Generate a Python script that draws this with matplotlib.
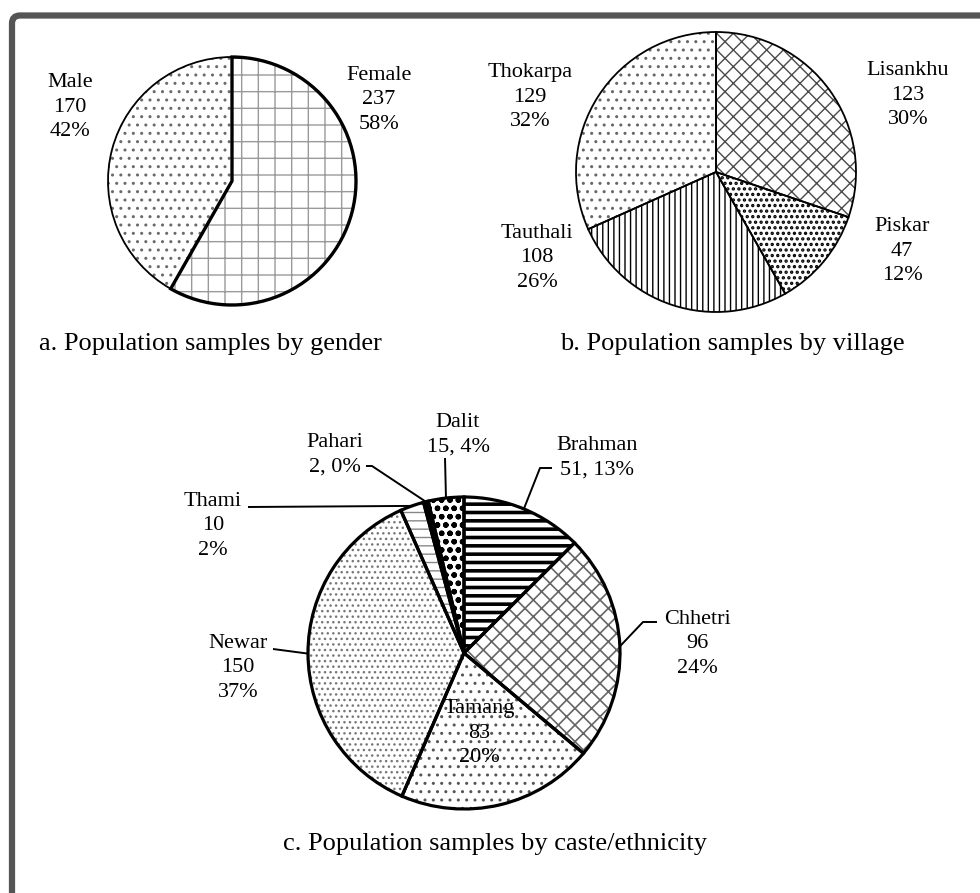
import numpy as np
import matplotlib.pyplot as plt
from matplotlib.patches import FancyBboxPatch

# a. gender
gender_labels = ['Female', 'Male']
gender_counts = [237, 170]
gender_pcts = [58, 42]

# b. village
village_labels = ['Lisankhu', 'Piskar', 'Tauthali', 'Thokarpa']
village_counts = [123, 47, 108, 129]
village_pcts = [30, 12, 26, 32]

# c. caste / ethnicity
caste_labels = ['Brahman', 'Chhetri', 'Tamang', 'Newar', 'Thami', 'Pahari', 'Dalit']
caste_counts = [51, 96, 83, 150, 10, 2, 15]
caste_pcts = [13, 24, 20, 37, 2, 0, 4]

W, H = 980, 893   # layout below is in image pixels, y measured downwards

plt.rcParams['font.family'] = ['Liberation Serif', 'DejaVu Serif']

fig = plt.figure(figsize=(W / 100, H / 100), dpi=100)
ax = fig.add_axes([0, 0, 1, 1])


def draw_pie(counts, center, radius, hatches, hcolors, faces, hatch_lw, edge_lw):
    cx, cy = center[0], H - center[1]
    wedges, _ = ax.pie(counts, center=(cx, cy), radius=radius, startangle=90,
                       counterclock=False, wedgeprops=dict(linewidth=0))
    for w, h, c, f, hl in zip(wedges, hatches, hcolors, faces, hatch_lw):
        w.set_facecolor(f)
        w.set_edgecolor(c)   # edge colour doubles as hatch colour
        w.set_linewidth(0)
        w.set_hatch(h)
        if hasattr(w, 'set_hatch_linewidth'):
            w.set_hatch_linewidth(hl)
    # black outlines drawn on top
    outl, _ = ax.pie(counts, center=(cx, cy), radius=radius, startangle=90,
                     counterclock=False, wedgeprops=dict(fill=False, edgecolor='black'))
    for o, lw in zip(outl, edge_lw):
        o.set_linewidth(lw)
    return wedges


def put_labels(names, counts, pcts, positions, compact=(), size=16):
    for n, c, p in zip(names, counts, pcts):
        if n not in positions:
            continue
        x, y = positions[n]
        s = f'{n}\n{c}, {p}%' if n in compact else f'{n}\n{c}\n{p}%'
        ax.text(x, H - y, s, ha='center', va='center', fontsize=size,
                linespacing=1.42, multialignment='center')


# ---- a. gender ----
draw_pie(gender_counts, (232, 181), 124,
         hatches=['+', '..'], hcolors=['#9a9a9a', '#6a6a6a'], faces=['white', 'white'],
         hatch_lw=[1.0, 1.0], edge_lw=[2.4, 1.3])
put_labels(gender_labels, gender_counts, gender_pcts,
           {'Female': (379, 100), 'Male': (70, 107)})
ax.text(210, H - 350, 'a. Population samples by gender', ha='center', va='baseline', fontsize=19)

# ---- b. village ----
draw_pie(village_counts, (716, 172), 140,
         hatches=['xx', '...', '|||', '..'],
         hcolors=['#4a4a4a', 'black', 'black', '#666666'],
         faces=['white'] * 4, hatch_lw=[1.0, 1.6, 1.0, 1.0], edge_lw=[1.3] * 4)
put_labels(village_labels, village_counts, village_pcts,
           {'Lisankhu': (908, 95), 'Piskar': (902, 251),
            'Tauthali': (537, 258), 'Thokarpa': (530, 97)})
ax.text(732, H - 350, 'b. Population samples by village', ha='center', va='baseline', fontsize=19)

# ---- c. caste / ethnicity ----
cw = draw_pie(caste_counts, (464, 653), 156,
              hatches=['--', 'xx', '..', '...', '--', '', 'oo'],
              hcolors=['black', '#666666', '#555555', '#777777', '#888888', 'black', 'black'],
              faces=['white', 'white', 'white', 'white', 'white', 'black', 'white'],
              hatch_lw=[2.6, 1.2, 1.0, 1.0, 1.0, 1.0, 1.6], edge_lw=[2.3] * 7)
put_labels(caste_labels, caste_counts, caste_pcts,
           {'Brahman': (597, 458), 'Chhetri': (697, 644), 'Tamang': (479, 733),
            'Newar': (238, 668), 'Thami': (213, 526), 'Pahari': (335, 455),
            'Dalit': (458, 435)},
           compact=('Brahman', 'Pahari', 'Dalit'))

# leader lines: from label anchor to the middle of the wedge's rim
leaders = {'Brahman': [(552, 468), (540, 468)], 'Chhetri': [(657, 622), (643, 622)],
           'Newar': [(273, 649)], 'Thami': [(248, 507)],
           'Pahari': [(366, 466), (372, 466)], 'Dalit': [(445, 458)]}
for n, w in zip(caste_labels, cw):
    if n not in leaders:
        continue
    t = np.deg2rad((w.theta1 + w.theta2) / 2)
    ex, ey = w.center[0] + w.r * np.cos(t), w.center[1] + w.r * np.sin(t)
    xs = [p[0] for p in leaders[n]] + [ex]
    ys = [H - p[1] for p in leaders[n]] + [ey]
    ax.plot(xs, ys, color='black', lw=1.4, solid_capstyle='butt')

ax.text(495, H - 850, 'c. Population samples by caste/ethnicity', ha='center', va='baseline', fontsize=19)

# grey frame, cut off at the right and bottom
ax.add_patch(FancyBboxPatch((12, -200), 1200, H - 15.5 + 200,
                            boxstyle='round,pad=0,rounding_size=8',
                            fill=False, edgecolor='#555555', lw=4.5, clip_on=False))

ax.set_xlim(0, W)
ax.set_ylim(0, H)
ax.set_aspect('equal')
ax.axis('off')

fig.savefig('out.png', dpi=100, facecolor='white')
